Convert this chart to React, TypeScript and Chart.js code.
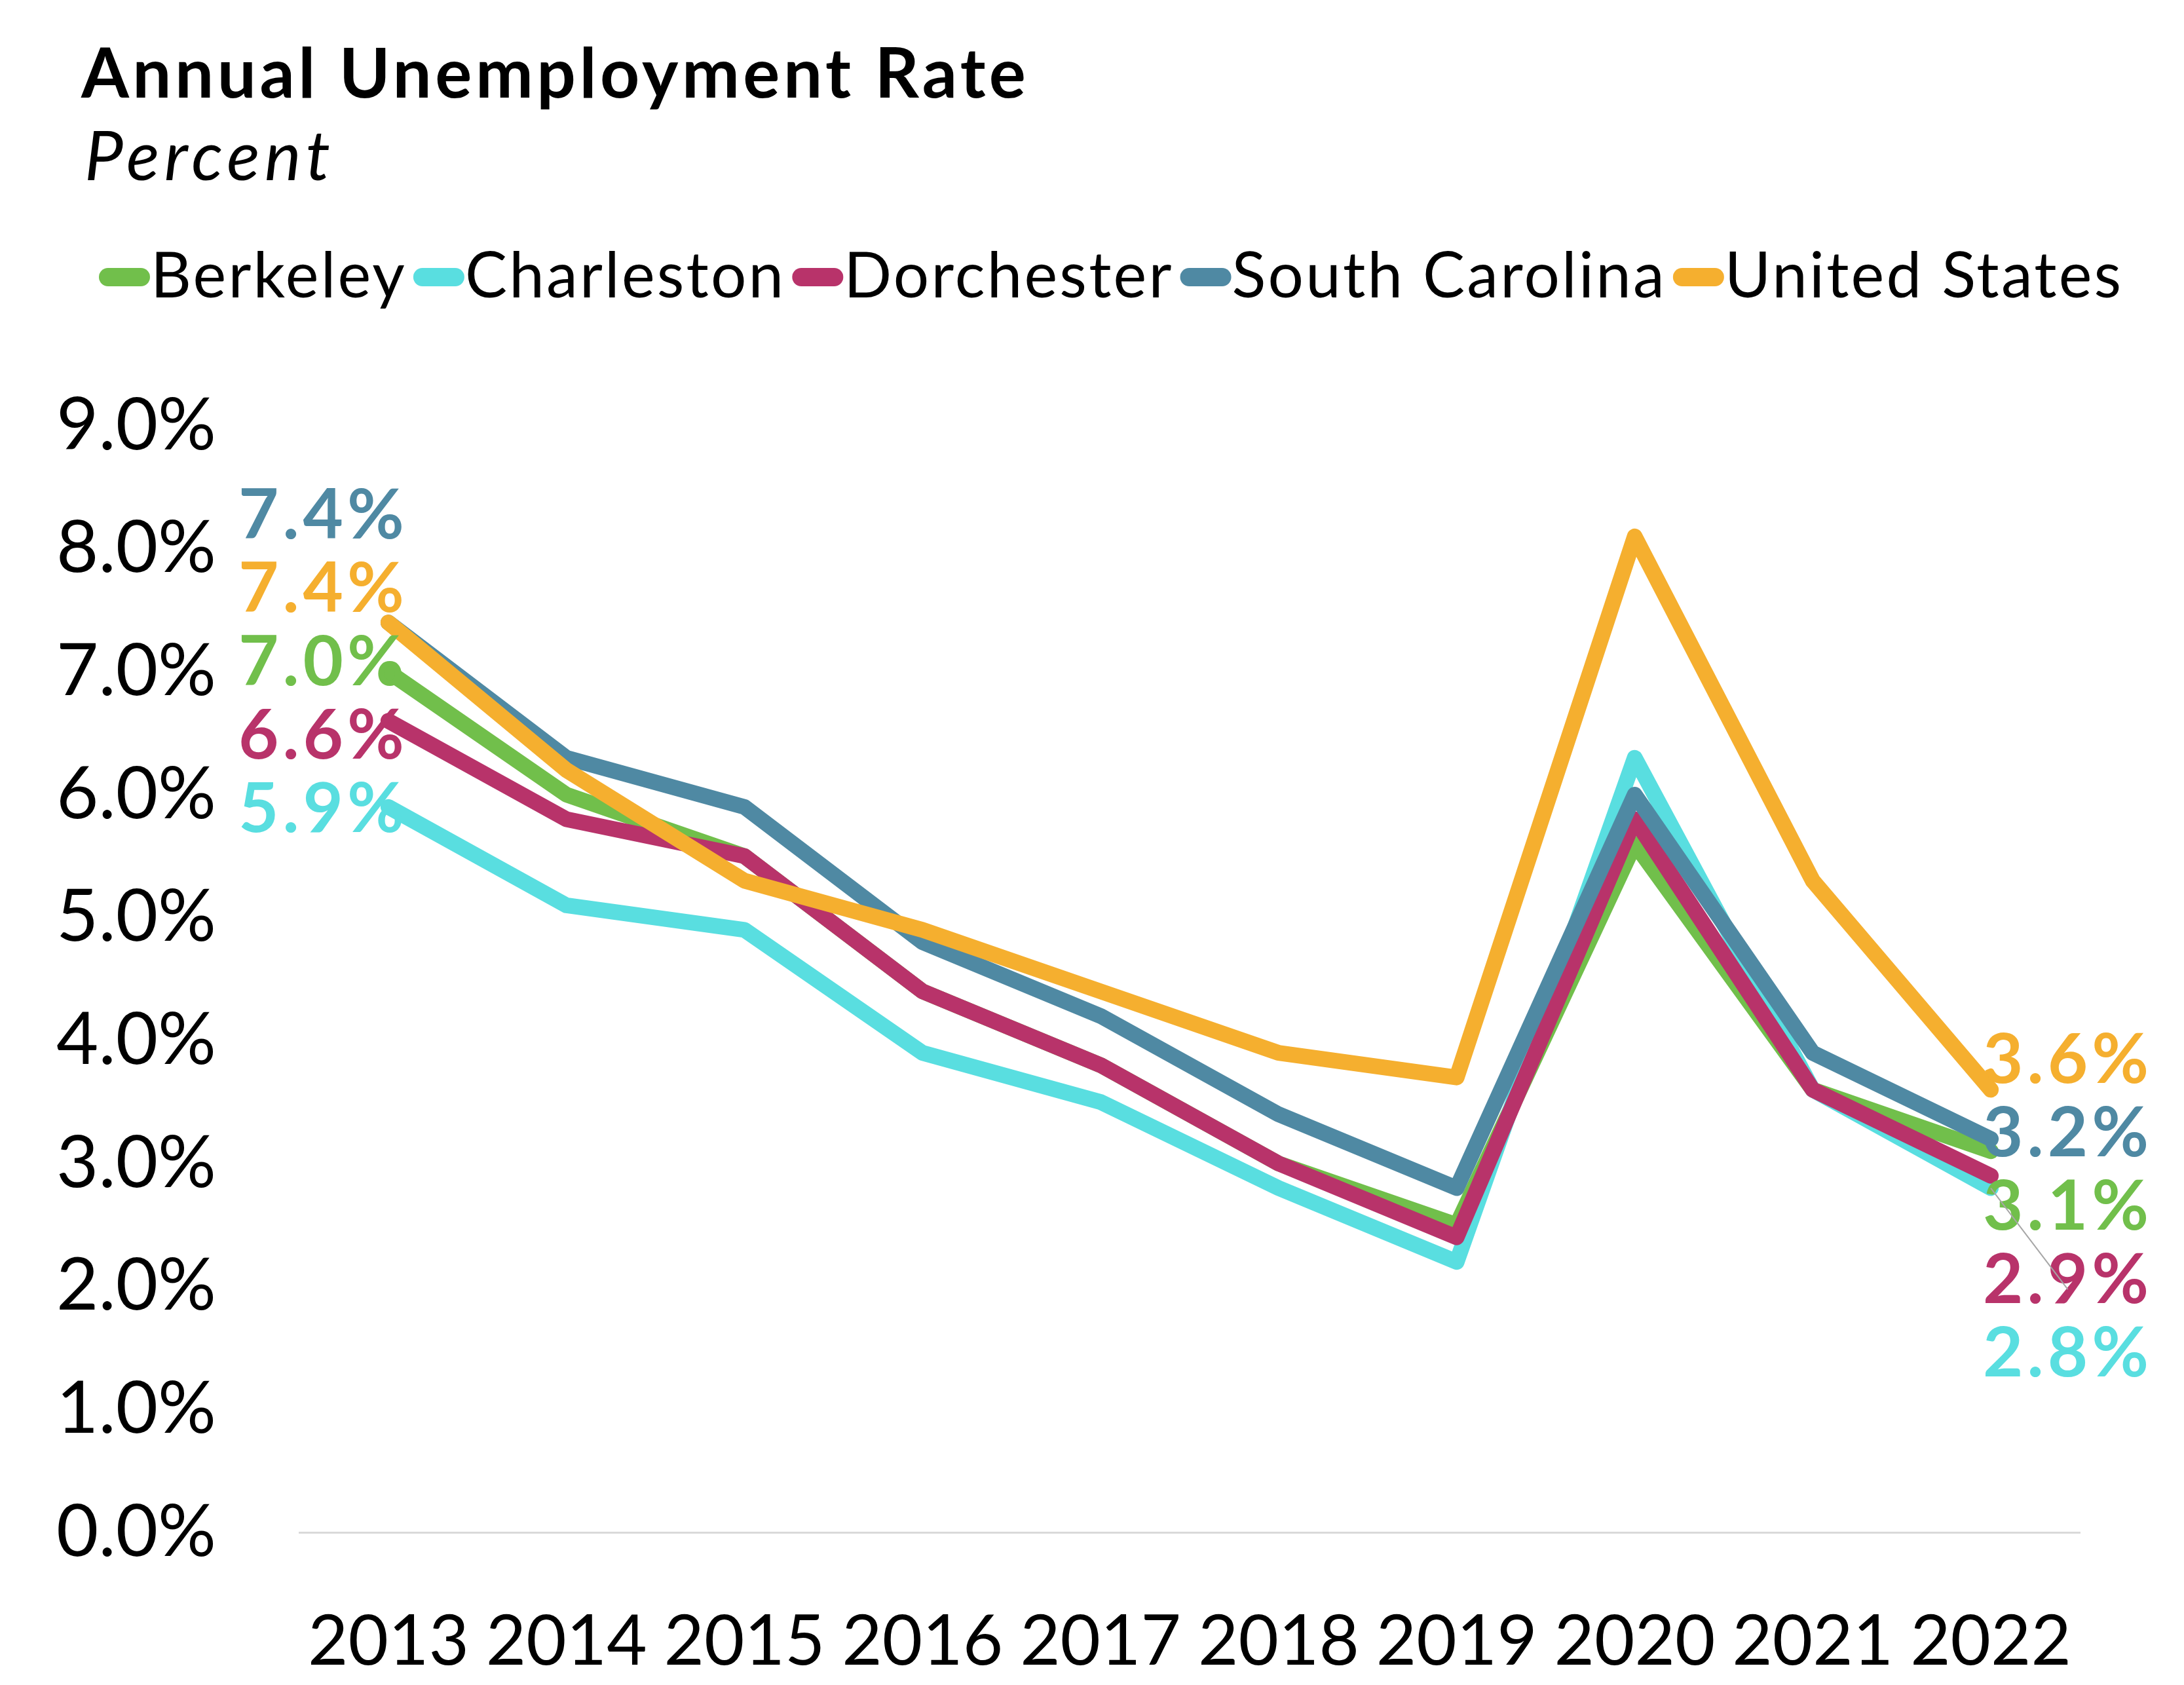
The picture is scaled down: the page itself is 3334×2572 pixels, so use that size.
import React, { useEffect, useRef } from "react";
import { Chart, registerables } from "chart.js";

Chart.register(...registerables);

// ---------- data ----------
const years = ["2013", "2014", "2015", "2016", "2017", "2018", "2019", "2020", "2021", "2022"];
const seriesNames = ["Berkeley", "Charleston", "Dorchester", "South Carolina", "United States"];
const berkeley = [7.0, 6.0, 5.5, 4.4, 3.8, 3.0, 2.5, 5.6, 3.6, 3.1];
const charleston = [5.9, 5.1, 4.9, 3.9, 3.5, 2.8, 2.2, 6.3, 3.6, 2.8];
const dorchester = [6.6, 5.8, 5.5, 4.4, 3.8, 3.0, 2.4, 5.8, 3.6, 2.9];
const southCarolina = [7.4, 6.3, 5.9, 4.8, 4.2, 3.4, 2.8, 6.0, 3.9, 3.2];
const unitedStates = [7.4, 6.2, 5.3, 4.9, 4.4, 3.9, 3.7, 8.1, 5.3, 3.6];
const seriesValues = [berkeley, charleston, dorchester, southCarolina, unitedStates];
const seriesColors = ["#71BF4B", "#59DEE0", "#B8336A", "#4F89A3", "#F5AF2F"];
const yMin = 0;
const yMax = 9;
const yStep = 1;
const titleText = "Annual Unemployment Rate";
const subtitleText = "Percent";

// ---------- layout / style ----------
const W = 3318;
const H = 2556;
const FONT = "Lato";
const CHART_LEFT = 449;
const CHART_RIGHT = 3167;
const CHART_TOP = 642;
const CHART_BOTTOM = 2331;

const fmt = (v: number) => v.toFixed(1) + "%";

function setSpacing(ctx: any, px: number) {
  if ("letterSpacing" in ctx) ctx.letterSpacing = px + "px";
}

function roundRectPath(ctx: CanvasRenderingContext2D, x: number, y: number, w: number, h: number, r: number) {
  ctx.beginPath();
  ctx.moveTo(x + r, y);
  ctx.lineTo(x + w - r, y);
  ctx.arc(x + w - r, y + r, r, -Math.PI / 2, 0);
  ctx.lineTo(x + w, y + h - r);
  ctx.arc(x + w - r, y + h - r, r, 0, Math.PI / 2);
  ctx.lineTo(x + r, y + h);
  ctx.arc(x + r, y + h - r, r, Math.PI / 2, Math.PI);
  ctx.lineTo(x, y + r);
  ctx.arc(x + r, y + r, r, Math.PI, Math.PI * 1.5);
  ctx.closePath();
}

const headerPlugin = {
  id: "headerPlugin",
  afterDraw(chart: any) {
    const ctx: CanvasRenderingContext2D = chart.ctx;
    ctx.save();
    ctx.textAlign = "left";
    ctx.textBaseline = "alphabetic";
    ctx.fillStyle = "#000000";
    ctx.font = `bold 105px ${FONT}`;
    setSpacing(ctx, 5.5);
    ctx.fillText(titleText, 116, 141);
    ctx.font = `italic 105px ${FONT}`;
    setSpacing(ctx, 7.5);
    ctx.fillText(subtitleText, 121, 267);

    // legend
    const boxW = 78;
    const boxH = 28;
    const boxCY = 415;
    const baseline = 446;
    let x = 143;
    ctx.font = `96px ${FONT}`;
    setSpacing(ctx, 3.2);
    chart.data.datasets.forEach((ds: any) => {
      ctx.fillStyle = ds.borderColor;
      roundRectPath(ctx, x, boxCY - boxH / 2, boxW, boxH, boxH / 2);
      ctx.fill();
      x += boxW + 1;
      ctx.fillStyle = "#000000";
      ctx.fillText(ds.label, x, baseline);
      x += ctx.measureText(ds.label).width + 10;
    });
    ctx.restore();
  },
};

type LabelItem = { i: number; v: number; px: number; py: number; desired: number; y: number; color: string };

function resolve(items: LabelItem[], gap: number) {
  let clusters = items.map((it) => [it]);
  const center = (c: LabelItem[]) => c.reduce((s, it) => s + it.desired, 0) / c.length;
  let changed = true;
  while (changed) {
    changed = false;
    for (let k = 0; k < clusters.length - 1; k++) {
      const a = clusters[k];
      const b = clusters[k + 1];
      const aBottom = center(a) + ((a.length - 1) * gap) / 2;
      const bTop = center(b) - ((b.length - 1) * gap) / 2;
      if (bTop - aBottom < gap) {
        clusters.splice(k, 2, a.concat(b));
        changed = true;
        break;
      }
    }
  }
  clusters.forEach((c) => {
    const top = center(c) - ((c.length - 1) * gap) / 2;
    c.forEach((it, j) => (it.y = top + j * gap));
  });
}

const endLabelsPlugin = {
  id: "endLabelsPlugin",
  afterDatasetsDraw(chart: any) {
    const ctx: CanvasRenderingContext2D = chart.ctx;
    const size = 106;
    const spacing = 6;
    const capH = 0.7165 * size;
    const last = years.length - 1;
    const sides = [
      { idx: 0, align: "right" as CanvasTextAlign, dx: 24 + spacing, dy: -44 },
      { idx: last, align: "left" as CanvasTextAlign, dx: -12, dy: 86 },
    ];
    ctx.save();
    ctx.font = `bold ${size}px ${FONT}`;
    setSpacing(ctx, spacing);
    ctx.textBaseline = "alphabetic";
    sides.forEach((side) => {
      const items: LabelItem[] = chart.data.datasets.map((ds: any, i: number) => {
        const el = chart.getDatasetMeta(i).data[side.idx];
        return {
          i,
          v: ds.data[side.idx],
          px: el.x,
          py: el.y,
          desired: el.y + side.dy,
          y: el.y,
          color: ds.borderColor,
        };
      });
      items.sort((a, b) => b.v - a.v || a.i - b.i);
      resolve(items, 112);
      items.forEach((it) => {
        const text = fmt(it.v);
        const tx = it.px + side.dx;
        const w = ctx.measureText(text).width;
        if (Math.abs(it.y - it.py) > 200) {
          const lx = side.align === "left" ? tx + w / 2 : tx - w / 2;
          ctx.strokeStyle = "#A6A6A6";
          ctx.lineWidth = 2;
          ctx.beginPath();
          ctx.moveTo(it.px, it.py);
          ctx.lineTo(lx, it.y - 0.9 * size);
          ctx.stroke();
        }
        ctx.fillStyle = it.color;
        ctx.textAlign = side.align;
        ctx.fillText(text, tx, it.y + capH / 2);
      });
    });
    ctx.restore();
  },
};

export default function App() {
  const canvasRef = useRef<HTMLCanvasElement | null>(null);

  useEffect(() => {
    if (!canvasRef.current) return;
    const chart = new Chart(canvasRef.current, {
      type: "line",
      data: {
        labels: years,
        datasets: seriesNames.map((name, i) => ({
          label: name,
          data: seriesValues[i],
          borderColor: seriesColors[i],
          backgroundColor: seriesColors[i],
          borderWidth: 24,
          borderCapStyle: "round",
          borderJoinStyle: "round",
          pointRadius: 0,
          pointHoverRadius: 0,
          tension: 0,
          fill: false,
          order: seriesNames.length - 1 - i,
        })),
      },
      options: {
        responsive: false,
        maintainAspectRatio: false,
        devicePixelRatio: 1,
        animation: false,
        events: [],
        layout: {
          padding: { top: CHART_TOP, left: 0, right: W - CHART_RIGHT, bottom: 0 },
        },
        plugins: {
          legend: { display: false },
          title: { display: false },
          tooltip: { enabled: false },
        },
        scales: {
          x: {
            type: "category",
            offset: true,
            grid: { display: false, drawTicks: false },
            border: { display: true, color: "#D9D9D9", width: 3 },
            ticks: {
              autoSkip: false,
              maxRotation: 0,
              minRotation: 0,
              padding: 104,
              color: "#000000",
              font: { family: FONT, size: 106 },
            },
            afterFit: (scale: any) => {
              scale.height = H - CHART_BOTTOM;
            },
          },
          y: {
            min: yMin,
            max: yMax,
            grid: { display: false, drawTicks: false },
            border: { display: false },
            ticks: {
              stepSize: yStep,
              padding: 127,
              color: "#000000",
              font: { family: FONT, size: 111 },
              callback: (v: any) => fmt(Number(v)),
            },
            afterFit: (scale: any) => {
              scale.width = CHART_LEFT;
            },
          },
        },
      },
      plugins: [headerPlugin, endLabelsPlugin],
    } as any);
    return () => chart.destroy();
  }, []);

  return (
    <div style={{ width: W, height: H }}>
      <canvas ref={canvasRef} width={W} height={H} style={{ display: "block", width: W, height: H }} />
    </div>
  );
}
